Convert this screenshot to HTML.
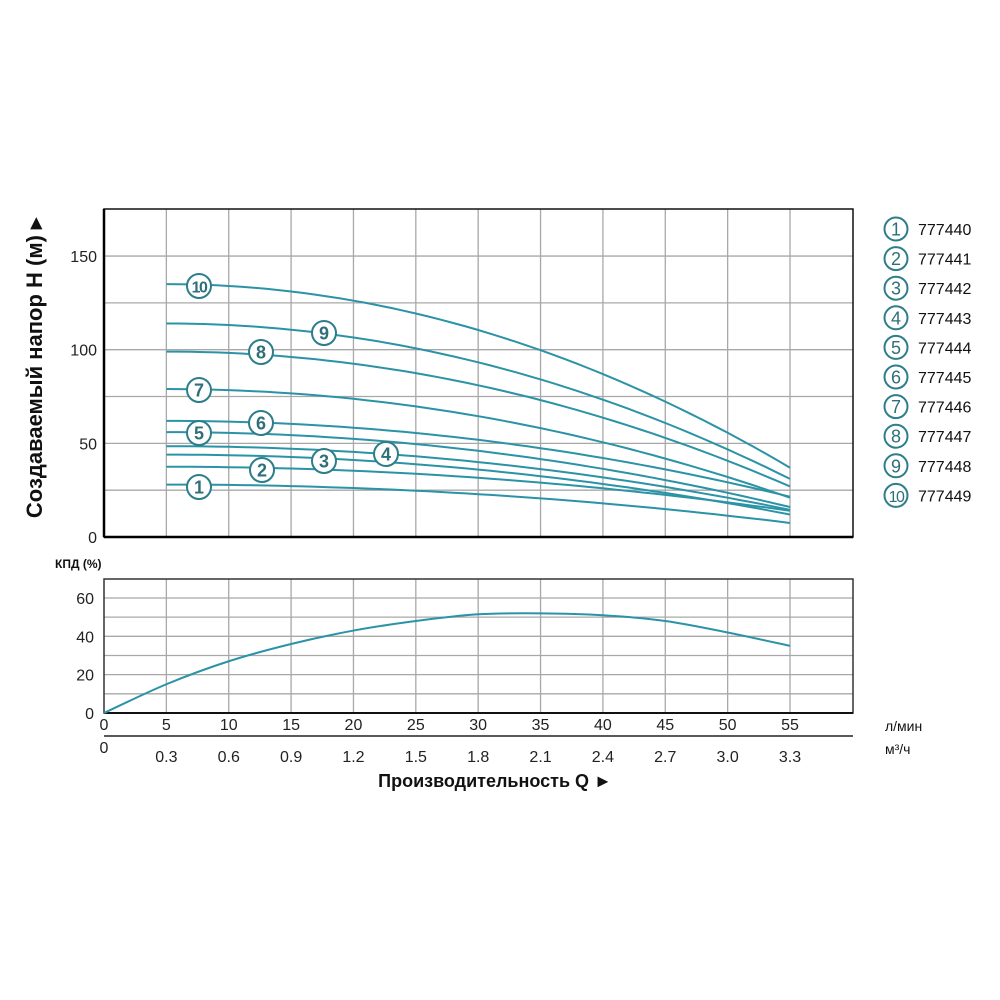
<!DOCTYPE html>
<html><head><meta charset="utf-8"><style>
body{margin:0;background:#fff;}
svg{display:block;font-family:"Liberation Sans",sans-serif;}
</style></head><body>
<svg id="s" width="1000" height="1000" xmlns="http://www.w3.org/2000/svg"></svg>
<script>
const S=document.getElementById('s');
let h='';
const X=q=>104+q*12.473;
const Y=v=>537-v*1.873;
const Y2=v=>713-v*1.917;
const G='#a8a8a8';
for(let q=5;q<=55;q+=5)h+=`<line x1="${X(q)}" y1="209" x2="${X(q)}" y2="537" stroke="${G}" stroke-width="1.3"/>`;
for(let v=25;v<=150;v+=25)h+=`<line x1="104" y1="${Y(v)}" x2="853" y2="${Y(v)}" stroke="${G}" stroke-width="1.3"/>`;
h+=`<rect x="104" y="209" width="749" height="328" fill="none" stroke="#111" stroke-width="1.5"/>`;
h+=`<line x1="104" y1="209" x2="104" y2="537" stroke="#000" stroke-width="2.5"/><line x1="104" y1="537" x2="853" y2="537" stroke="#000" stroke-width="2.5"/>`;
[[0,537],[50,Y(50)],[100,Y(100)],[150,Y(150)]].forEach(([v,y])=>h+=`<text x="97" y="${y+6}" font-size="16" text-anchor="end" fill="#222">${v}</text>`);
const C=[[28,7.5],[37.5,14],[44,12],[48.5,14.5],[56,16],[62,21.5],[79,21],[99,27],[114,31],[135,37]];
C.forEach(([a,b])=>{let p='';for(let q=5;q<=55;q+=1){const v=a-(a-b)*Math.pow((q-5)/50,2);p+=(q==5?'M':'L')+X(q).toFixed(1)+','+Y(v).toFixed(1);}h+=`<path d="${p}" fill="none" stroke="#2b93a6" stroke-width="2"/>`;});
const L=[[199,487],[262,470],[324,461],[386,454],[199,433],[261,423],[199,390],[261,352],[324,333],[199,286]];
L.forEach(([x,y],i)=>{h+=`<circle cx="${x}" cy="${y}" r="12" fill="#fff" stroke="#2e7d8a" stroke-width="2"/><text x="${x}" y="${y+6.5}" font-size="${i==9?16:18}" font-weight="bold" text-anchor="middle" fill="#2e6f7a" ${i==9?'letter-spacing="-1.5"':''}>${i+1}</text>`;});
for(let i=0;i<10;i++){const y=229+29.6*i;h+=`<circle cx="896" cy="${y}" r="11.5" fill="#fff" stroke="#2e7d8a" stroke-width="2"/><text x="896" y="${y+6.5}" font-size="${i==9?16:18}" text-anchor="middle" fill="#2e6f7a" ${i==9?'letter-spacing="-1.5"':''}>${i+1}</text><text x="918" y="${y+6}" font-size="16" fill="#111">77744${i}</text>`;}
h+=`<text transform="translate(42,368) rotate(-90)" font-size="22" font-weight="bold" text-anchor="middle" fill="#111">Создаваемый напор H (м) ▸</text>`;
h+=`<text x="55" y="568" font-size="12" font-weight="bold" fill="#111">КПД (%)</text>`;
for(let q=5;q<=55;q+=5)h+=`<line x1="${X(q)}" y1="579" x2="${X(q)}" y2="713" stroke="${G}" stroke-width="1.3"/>`;
for(let v=10;v<=60;v+=10)h+=`<line x1="104" y1="${Y2(v)}" x2="853" y2="${Y2(v)}" stroke="${G}" stroke-width="1.3"/>`;
h+=`<rect x="104" y="579" width="749" height="134" fill="none" stroke="#333" stroke-width="1.5"/>`;
h+=`<line x1="104" y1="713" x2="853" y2="713" stroke="#111" stroke-width="2"/>`;
[0,20,40,60].forEach(v=>h+=`<text x="94" y="${Y2(v)+6}" font-size="16" text-anchor="end" fill="#222">${v}</text>`);
const E=[[0,0],[5,15],[10,27],[15,36],[20,43],[25,48],[30,51.5],[35,52],[40,51],[45,48],[50,42],[55,35]];
let p='M'+X(0)+','+Y2(0);
for(let i=0;i<E.length-1;i++){const p0=E[Math.max(0,i-1)],p1=E[i],p2=E[i+1],p3=E[Math.min(E.length-1,i+2)];
const c1=[p1[0]+(p2[0]-p0[0])/6,p1[1]+(p2[1]-p0[1])/6],c2=[p2[0]-(p3[0]-p1[0])/6,p2[1]-(p3[1]-p1[1])/6];
p+=`C${X(c1[0])},${Y2(c1[1])} ${X(c2[0])},${Y2(c2[1])} ${X(p2[0])},${Y2(p2[1])}`;}
h+=`<path d="${p}" fill="none" stroke="#2b93a6" stroke-width="2"/>`;
for(let q=0;q<=55;q+=5)h+=`<text x="${X(q)}" y="730" font-size="16" text-anchor="middle" fill="#222">${q}</text>`;
h+=`<line x1="104" y1="736" x2="853" y2="736" stroke="#222" stroke-width="1.5"/>`;
const m=['0','0.3','0.6','0.9','1.2','1.5','1.8','2.1','2.4','2.7','3.0','3.3'];
m.forEach((t,i)=>h+=`<text x="${X(i*5)}" y="${i==0?753:762}" font-size="16" text-anchor="middle" fill="#222">${t}</text>`);
h+=`<text x="885" y="731" font-size="14" fill="#111">л/мин</text><text x="885" y="754" font-size="14" fill="#111">м³/ч</text>`;
h+=`<text x="495" y="787" font-size="18" font-weight="bold" text-anchor="middle" fill="#111">Производительность Q ►</text>`;
S.innerHTML=h;
</script>
</body></html>
